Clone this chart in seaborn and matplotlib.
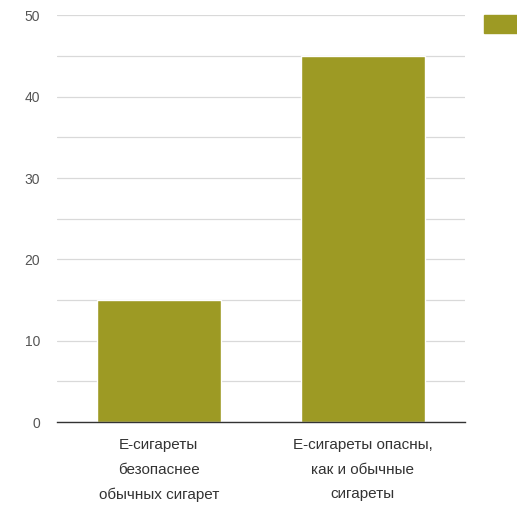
import matplotlib
import pandas as pd
import seaborn as sns
from matplotlib import pyplot as plt
from matplotlib.patches import Patch

# data
categories = [
    "Е-сигареты\nбезопаснее\nобычных сигарет",
    "Е-сигареты опасны,\nкак и обычные\nсигареты",
]
values = [15, 45]

bar_color = "#9d9a24"

sns.set_style("white")
matplotlib.rcParams["font.family"] = ["Liberation Sans", "DejaVu Sans"]

df = pd.DataFrame({"category": categories, "value": values})

fig = plt.figure(figsize=(5.17, 5.08), dpi=100)
ax = fig.add_axes([0.110, 0.169, 0.789, 0.801])

sns.barplot(ax=ax, data=df, x="category", y="value", color=bar_color,
            width=0.61, saturation=1, zorder=3)

ax.set_xlim(-0.5, 1.5)
ax.set_ylim(0, 50)
ax.set_yticks(range(0, 51, 10))
ax.set_yticks(range(5, 50, 10), minor=True)
ax.grid(axis="y", which="both", color="#d9d9d9", linewidth=0.9, zorder=0)
ax.set_xlabel("")
ax.set_ylabel("")

for side in ["top", "right", "left"]:
    ax.spines[side].set_visible(False)
ax.spines["bottom"].set_color("#333333")
ax.spines["bottom"].set_linewidth(1.0)
ax.spines["bottom"].set_zorder(4)

ax.tick_params(axis="y", which="both", length=0, pad=12, labelsize=10, labelcolor="#555555")
ax.tick_params(axis="x", length=0, pad=11.5, labelsize=11, labelcolor="#333333")
for lbl in ax.get_xticklabels():
    lbl.set_linespacing(1.95)
    lbl.set_verticalalignment("top")

# legend swatch (no text), cut off at the right edge like the original
fig.legend(handles=[Patch(color=bar_color, label=" ")], loc="upper left",
           bbox_to_anchor=(484 / 517, 1 - 15 / 508), frameon=False,
           borderpad=0, borderaxespad=0, handlelength=2.4, handleheight=1.65,
           handletextpad=0.3, fontsize=10)

fig.savefig("out.png", dpi=100)
